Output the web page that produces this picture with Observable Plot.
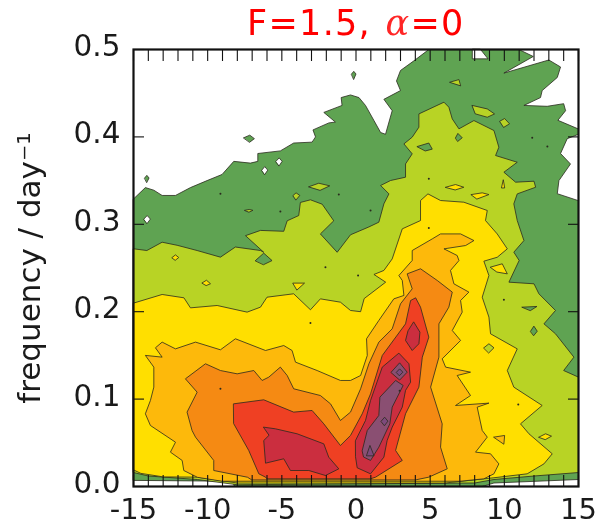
<!DOCTYPE html>
<html><head><meta charset="utf-8">
<script src="https://cdn.jsdelivr.net/npm/d3@7"></script>
<script src="https://cdn.jsdelivr.net/npm/@observablehq/plot@0.6"></script>
<style>
html,body{margin:0;padding:0;background:#fff;overflow:hidden}
#t{position:absolute;left:247px;top:2px;font-family:"DejaVu Sans";color:#ff0000;font-size:35px;line-height:42px;white-space:nowrap;word-spacing:2px;letter-spacing:1.3px;filter:blur(.45px)}
#t i{font-family:"DejaVu Serif";font-style:italic;font-weight:300;opacity:.85}
svg{display:block;filter:blur(.45px)}
</style></head><body>
<div id="c"></div>
<div id="t">F=1.5, <i>α</i>=0</div>
<script>
const yTitle = "frequency / day⁻¹";
const lagTicks = [-15,-10,-5,0,5,10,15];
const lagMinor = d3.range(-15,16);
const freqTicks = [0,0.1,0.2,0.3,0.4,0.5];
const colors = {white:"#ffffff",green:"#5fa352",lime:"#b8d325",yellow:"#ffdf00",amber:"#fdb90b",orange:"#f58a13",red:"#ef4023",crimson:"#cb2e3f",mauve:"#8a4f72",deep:"#7d4a7c"};

// contour outlines: [lag in days, frequency per day]
const greenOutline = [[-15,.329],[-14.2,.342],[-13.63,.339],[-13.07,.333],[-12.17,.333],[-11.16,.342],[-10.04,.35],[-9.03,.357],[-8.24,.372],[-7.12,.37],[-6.62,.372],[-6.62,.381],[-5.1,.384],[-4.2,.393],[-2.96,.394],[-2.73,.4],[-2.9,.408],[-1.83,.416],[-1.39,.417],[-2.17,.428],[-.94,.436],[-1,.445],[-.37,.448],[.2,.445],[.64,.436],[1.2,.419],[1.66,.405],[1.99,.403],[2.44,.43],[1.88,.443],[3,.453],[2.73,.464],[3,.476],[3.9,.487],[4.91,.5],[10.98,.5],[11.95,.492],[9.97,.473],[13,.488],[13.79,.48],[13.57,.468],[12.55,.453],[12.44,.445],[11.32,.436],[12.89,.435],[14,.438],[14.13,.43],[13.61,.419],[15,.409],[15,.403],[14.24,.398],[13.79,.381],[14.46,.369],[13.68,.35],[13.57,.335],[15,.327],[15,.008],[9.3,.004],[8.5,0],[-8.2,0],[-8.3,.006],[-15,.007]];
const limeOutline = [[-15,.272],[-14.1,.27],[-13.07,.2795],[-12.06,.276],[-10.71,.27],[-9.14,.2624],[-8.13,.274],[-6.44,.27],[-6.22,.268],[-7.45,.287],[-6.44,.293],[-4.87,.292],[-4.64,.304],[-3.86,.31],[-3.75,.325],[-3.07,.328],[-2.28,.323],[-1.5,.304],[-2.4,.289],[-1.27,.268],[-.37,.288],[.87,.297],[1.54,.3024],[1.88,.3234],[2.22,.3348],[1.66,.3444],[2.33,.3501],[3.34,.3539],[3.34,.3691],[3.79,.3806],[3.23,.392],[3.79,.3997],[4.24,.4111],[4.24,.4263],[5.93,.4397],[6.26,.434],[6.49,.4206],[6.94,.4092],[7.95,.4187],[9.3,.4073],[9.63,.3882],[9.41,.3787],[10.87,.371],[9.97,.3596],[10.76,.3482],[12,.3493],[12.11,.3424],[10.87,.3348],[10.64,.3234],[10.87,.3043],[11.32,.2814],[10.64,.2681],[11,.2586],[10.31,.2338],[12,.2319],[12.33,.2205],[13.45,.2014],[12.67,.1861],[13.45,.1747],[14.69,.148],[14,.1327],[15,.1251],[15,.016],[12,.012],[9.3,.008],[8,.004],[-8,.002],[-10.7,.008],[-14,.012],[-15,.016]];
const yellowOutline = [[-15,.2098],[-13.07,.2197],[-11.6,.2159],[-11.16,.2044],[-9.36,.2071],[-7.34,.1995],[-6.44,.2052],[-6,.2166],[-4.2,.2205],[-3.07,.2022],[-2.4,.2147],[-1.05,.2109],[-.37,.2014],[.31,.2],[.55,.215],[2,.2338],[1.21,.2426],[1.88,.2472],[2.44,.2604],[3.12,.2948],[4.35,.3043],[4.35,.3272],[4.85,.3348],[5.7,.3272],[7.27,.3253],[8.85,.3158],[8.73,.3043],[9.52,.289],[10.2,.2719],[9.52,.2623],[8.62,.2578],[8.96,.2414],[8.51,.2166],[8.96,.1938],[9.07,.1747],[10.87,.1575],[10.2,.1327],[10.64,.1137],[12.55,.0927],[11.09,.0717],[11.66,.0603],[13.23,.0374],[12.67,.0259],[11.54,.0145],[9.3,.01],[6,.004],[-8,.004],[-10.7,.0107],[-13,.011],[-14.5,.015],[-15,.019]];
const amberOutline = [[-10.71,.0107],[-11.61,.0183],[-11.72,.0298],[-12.51,.0393],[-12.17,.0507],[-13.86,.0698],[-14.2,.0832],[-13.86,.0984],[-13.63,.1137],[-13.63,.1366],[-14.2,.15],[-13.07,.148],[-13.52,.1587],[-13.07,.1652],[-12.17,.1575],[-10.82,.1652],[-9.14,.1564],[-8.13,.169],[-6.1,.1556],[-4.87,.1613],[-4.31,.1556],[-4.08,.1423],[-2.62,.1327],[-1.05,.1213],[-.37,.1213],[.31,.127],[.76,.1499],[.71,.169],[1.54,.19],[2.55,.2147],[3.23,.2186],[3.12,.2357],[2.89,.2414],[3.79,.2586],[3.79,.27],[5.14,.2833],[5.7,.289],[7.05,.289],[7.95,.2814],[7.39,.2757],[5.93,.2719],[6.82,.2643],[6.94,.2585],[6.37,.2472],[6.6,.2319],[7.61,.2224],[7.05,.2128],[7.16,.1995],[6.49,.1785],[7.05,.1671],[5.81,.1461],[6.04,.1366],[7.72,.1308],[6.82,.127],[7.72,.1041],[6.71,.0927],[8.96,.0954],[8.17,.0908],[8.51,.0641],[8.85,.0565],[8.06,.0393],[9.07,.0374],[9.63,.0259],[9.3,.0145],[8.62,.0088],[7,.006],[-9,.006]];
const orangeOutline = [[-7.34,.0107],[-9.59,.0183],[-9.59,.0298],[-10.82,.0565],[-11.05,.064],[-11.39,.0851],[-10.71,.1079],[-11.5,.1232],[-10.15,.1404],[-9.14,.1327],[-8.01,.1289],[-6.89,.1327],[-6.33,.1213],[-5.88,.1251],[-5.1,.1366],[-4.64,.127],[-4.2,.1118],[-2.4,.1041],[-1.72,.0946],[-1.05,.0755],[-.37,.0851],[.31,.1118],[.87,.1404],[1.54,.1652],[2.44,.1804],[3,.209],[3.79,.2262],[3.45,.2433],[4.35,.2491],[5.48,.2357],[6.49,.2224],[6.26,.2052],[5.59,.1861],[5.59,.148],[5.03,.1137],[5.81,.0717],[5.7,.045],[6.15,.0202],[4.91,.0107],[4,.0075],[-7,.0075]];
const redOutline = [[-8.24,.0946],[-6.22,.0992],[-4.2,.0851],[-2.96,.087],[-2.17,.0717],[-1.05,.0469],[-.37,.0584],[.42,.0832],[.98,.106],[1.77,.1499],[3.34,.1861],[3.68,.2128],[4.02,.2159],[4.35,.2052],[4.91,.1709],[4.47,.148],[4.24,.1137],[3.34,.0832],[2.67,.0412],[3.12,.0298],[1.32,.0107],[.98,.0088],[-6,.0088],[-6.1,.0107],[-6.55,.0145],[-7.23,.0412],[-8.24,.0717]];
const crimsonWest = [[-6.22,.0679],[-5.43,.066],[-3.97,.0603],[-2.17,.0488],[-1.84,.0336],[-1.16,.0202],[-2.06,.0126],[-3.18,.0183],[-4.42,.0183],[-4.87,.0317],[-6.1,.0267],[-6.22,.0526],[-5.88,.0583]];
const crimsonRidge = [[-.03,.0336],[.08,.0214],[.98,.0145],[1.88,.0336],[2.1,.0527],[2.44,.0679],[3.12,.0908],[3.34,.1099],[3.68,.1194],[3.57,.1404],[2.89,.1526],[1.77,.1366],[.98,.0984],[.64,.0755],[-.03,.0527]];
const crimsonTop = [[3.9,.188],[4.31,.1766],[4.24,.1633],[3.79,.1556],[3.34,.1671],[3.5,.1777]];
const mauveRidge = [[.42,.0412],[.76,.0641],[1.54,.0813],[1.61,.1022],[2.67,.1213],[3.18,.1156],[2.44,.0908],[2.28,.0717],[1.54,.045],[.98,.0298],[.53,.0336]];
const mauveTop = [[2.37,.1308],[2.94,.1415],[3.45,.1308],[2.96,.1221]];
const deepTop = [[2.73,.1308],[2.94,.1346],[3.16,.1308],[2.94,.127]];
const deepTriangle = [[.71,.0355],[.94,.047],[1.21,.0355]];
const deepCircle = [[1.7,.0748],[1.93,.0793],[2.15,.0748],[1.93,.0698]];

// small closed contours
const whiteIslands = [
 [[7.84,.5],[7.84,.4893],[8.9,.4893],[8.4,.5]],
 [[-14.3,.306],[-14.08,.31],[-13.86,.306],[-14.08,.301]],
 [[-5.4,.372],[-5.18,.376],[-4.98,.372],[-5.18,.367]],
 [[-6.35,.362],[-6.15,.366],[-5.95,.362],[-6.15,.357]]
];
const greenIslandsOnWhite = [
 [[-7.57,.399],[-7.16,.402],[-6.85,.398],[-7.16,.394]],
 [[-14.25,.353],[-14.1,.356],[-13.95,.353],[-14.1,.348]],
 [[-.3,.472],[-.15,.475],[0,.472],[-.15,.466]]
];
const limeIslands = [
 [[-3.18,.343],[-2.51,.347],[-1.77,.344],[-2.4,.339]],
 [[-4.24,.333],[-4.04,.336],[-3.79,.333],[-4.04,.328]],
 [[6.33,.4626],[6.94,.4656],[7.05,.4588]],
 [[7.84,.436],[8.85,.432],[9.34,.4263],[8.85,.4225],[8.06,.4263]],
 [[9.7,.418],[10.02,.421],[10.35,.415],[9.97,.411]],
 [[-7.5,.316],[-7.2,.317],[-6.95,.316],[-7.2,.314]]
];
const greenIslandsOnLime = [
 [[4.13,.389],[4.91,.393],[5.14,.386],[4.69,.384]],
 [[6.71,.399],[6.87,.404],[7.16,.399],[6.87,.395]],
 [[-6.78,.2585],[-6.22,.267],[-5.66,.2585],[-6.22,.2539]],
 [[11.2,.2052],[12.2,.206],[11.77,.2014]],
 [[11.77,.1777],[11.99,.1835],[12.22,.1777],[11.99,.1728]]
];
const yellowIslands = [
 [[6.04,.3424],[6.71,.3455],[7.27,.3424],[6.71,.3394]],
 [[7.77,.334],[8.51,.336],[8.96,.334],[8.17,.329]],
 [[9.81,.342],[9.93,.351],[10.02,.342]],
 [[-10.37,.233],[-10.08,.236],[-9.81,.232],[-10.08,.23]],
 [[-4.24,.2327],[-3.47,.2327],[-3.97,.225]],
 [[-12.4,.262],[-12.17,.265],[-11.95,.262],[-12.17,.259]],
 [[9.07,.251],[9.86,.2548],[10.2,.2433],[9.52,.2453]],
 [[12.33,.0565],[12.78,.0603],[13.18,.0576],[12.78,.0538]]
];
const limeIslandsOnYellow = [[[8.62,.1587],[8.96,.1633],[9.3,.1587],[8.96,.153]]];
const amberIslands = [[[9.3,.0565],[10.02,.0584],[9.97,.0488]]];
const specks = [[-9.14,.335],[-5.1,.3146],[-1.16,.334],[4.91,.352],[.98,.3158],[4.91,.2959],[12.9,.389],[11.88,.399],[-9.14,.1117],[-2.06,.251],[.14,.2414],[-3.07,.187],[9.97,.2136],[10.94,.0938],[2.94,.1095]];

const layers = [
 ["green",[greenOutline]],["white",whiteIslands],["green",greenIslandsOnWhite],["lime",limeIslands],
 ["lime",[limeOutline]],["green",greenIslandsOnLime],
 ["yellow",yellowIslands],
 ["yellow",[yellowOutline]],["lime",limeIslandsOnYellow],
 ["amber",amberIslands],["amber",[amberOutline]],
 ["orange",[orangeOutline]],
 ["red",[redOutline]],
 ["crimson",[crimsonWest,crimsonRidge,crimsonTop]],
 ["mauve",[mauveRidge,mauveTop]],
 ["deep",[deepTop,deepTriangle,deepCircle]]
];
const contourMarks = layers.flatMap(([c,rings]) => rings.map(r =>
  Plot.line(r, {x:d=>d[0], y:d=>d[1], fill:colors[c], stroke:"#2a2a1e", strokeWidth:.8, curve:"linear-closed"})
));

const font = "DejaVu Sans";
const chart = Plot.plot({
  width:596, height:527, marginLeft:133, marginRight:18, marginTop:49, marginBottom:41,
  style:{background:"transparent",fontFamily:font,color:"#1a1a1a"},
  x:{domain:[-15,15]}, y:{domain:[0,.5]},
  marks:[
    ...contourMarks,
    Plot.dot(specks,{x:d=>d[0],y:d=>d[1],r:1,fill:"#2a2a1e"}),
    Plot.axisX(lagMinor,{anchor:"top",tickSize:-11,tickFormat:()=>"",label:null,stroke:"#111",strokeWidth:1.1}),
    Plot.axisX(lagMinor,{anchor:"bottom",tickSize:-11,tickFormat:()=>"",label:null,stroke:"#111",strokeWidth:1.1}),
    Plot.axisY(freqTicks,{anchor:"right",tickSize:-11,tickFormat:()=>"",label:null,stroke:"#111",strokeWidth:1.1}),
    Plot.axisY(freqTicks,{anchor:"left",tickSize:-11,tickFormat:()=>"",label:null,stroke:"#111",strokeWidth:1.1}),
    Plot.axisX(lagTicks,{anchor:"bottom",tickSize:0,tickPadding:12,tickFormat:d=>String(d),label:null,fontSize:29}),
    Plot.axisY(freqTicks,{anchor:"left",tickSize:0,tickPadding:13,dy:-3,tickFormat:d=>d.toFixed(1),label:null,fontSize:29.5}),
    Plot.text([yTitle],{frameAnchor:"left",rotate:-90,dx:-103,textAnchor:"middle",text:d=>d,fontSize:31,fill:"#1a1a1a"}),
    Plot.frame({stroke:"#111",strokeWidth:2.2})
  ]
});
document.getElementById("c").appendChild(chart);
</script></body></html>
